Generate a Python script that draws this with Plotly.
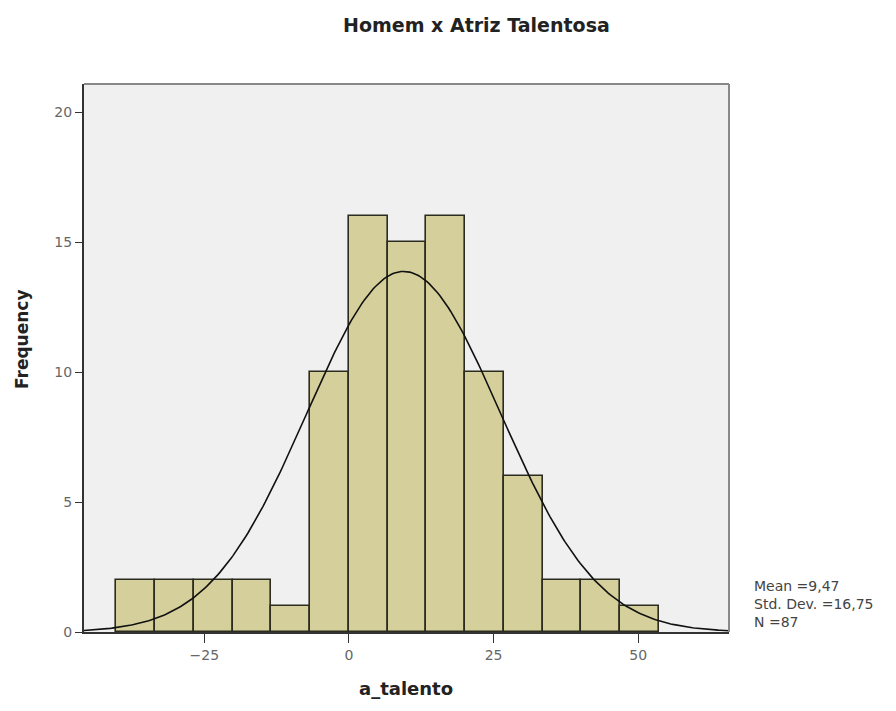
import numpy as np
import plotly.graph_objects as go

# histogram bins (SPSS default binning)
bin_width = 6.7
bin_start = -40.2
counts = [2, 2, 2, 2, 1, 10, 16, 15, 16, 10, 6, 2, 2, 1]

mean = 9.47
std_dev = 16.75
n = 87

x_ticks = [-25, 0, 25, 50]
y_ticks = [0, 5, 10, 15, 20]
stats_lines = ['Mean =9,47', 'Std. Dev. =16,75', 'N =87']

centers = [bin_start + bin_width * (i + 0.5) for i in range(len(counts))]

# normal curve scaled to the histogram
xs = np.linspace(-45.8, 65.7, 300)
ys = n * bin_width / (std_dev * np.sqrt(2 * np.pi)) * np.exp(-0.5 * ((xs - mean) / std_dev) ** 2)

# plot area in page pixels
L, R, T, B = 84, 729, 84, 632
W, H = R - L, B - T

def px(x):
    return (x - L) / W

def py(y):
    return (B - y) / H

fig = go.Figure()
fig.add_trace(go.Bar(
    x=centers, y=counts, width=bin_width,
    marker=dict(color='#d5d09b', line=dict(color='#2b2b1f', width=1.6)),
    hoverinfo='x+y'
))
fig.add_trace(go.Scatter(
    x=xs, y=ys, mode='lines',
    line=dict(color='#111111', width=1.6),
    hoverinfo='skip'
))

fig.update_layout(
    width=896, height=711,
    paper_bgcolor='white', plot_bgcolor='#f0f0f0',
    showlegend=False,
    margin=dict(l=L, r=896 - R, t=T, b=711 - B),
    font=dict(family='DejaVu Sans, sans-serif', size=14, color='#666666'),
    bargap=0,
)

fig.update_xaxes(
    range=[-45.8, 65.7], tickvals=x_ticks, ticks='outside', ticklen=9, tickcolor='#333333',
    showgrid=False, zeroline=False, showline=True, linecolor='#333333', linewidth=2,
    tickfont=dict(size=14, color='#666666')
)
fig.update_yaxes(
    range=[0, 21.1], tickvals=y_ticks, ticks='outside', ticklen=7, tickcolor='#333333',
    showgrid=False, zeroline=False, showline=True, linecolor='#333333', linewidth=2,
    tickfont=dict(size=14, color='#666666')
)

# light frame on top and right
fig.add_shape(type='line', xref='paper', yref='paper', x0=0, x1=1, y0=1, y1=1,
              line=dict(color='#888888', width=2))
fig.add_shape(type='line', xref='paper', yref='paper', x0=1, x1=1, y0=0, y1=1,
              line=dict(color='#888888', width=2))

fig.add_annotation(
    text='<b>Homem x Atriz Talentosa</b>', xref='paper', yref='paper',
    x=px(477), y=py(25), xanchor='center', yanchor='middle',
    showarrow=False, font=dict(size=19, color='#222222')
)
fig.add_annotation(
    text='<b>a_talento</b>', xref='paper', yref='paper',
    x=px(406), y=py(688), xanchor='center', yanchor='middle',
    showarrow=False, font=dict(size=18, color='#222222')
)
fig.add_annotation(
    text='<b>Frequency</b>', xref='paper', yref='paper', textangle=-90,
    x=px(22), y=py(339), xanchor='center', yanchor='middle',
    showarrow=False, font=dict(size=17, color='#222222')
)
fig.add_annotation(
    text='<br>'.join(stats_lines), xref='paper', yref='paper',
    x=px(752), y=py(604), xanchor='left', yanchor='middle', align='left',
    showarrow=False, font=dict(size=14, color='#444444')
)

# drop the default page margin so the figure sits at the top-left corner
fig.write_html("out.html", config={'displayModeBar': False},
               post_script="document.body.style.margin='0';")
